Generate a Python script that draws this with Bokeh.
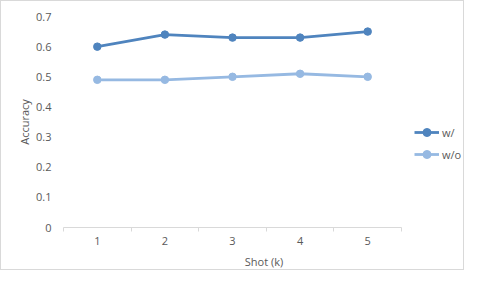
from bokeh.plotting import figure
from bokeh.models import Range1d, FixedTicker, Legend, LegendItem
from bokeh.embed import file_html
from bokeh.resources import INLINE

shots = [1, 2, 3, 4, 5]
tick_labels = {1: "1", 2: "2", 3: "3", 4: "4", 5: "5"}
acc_with = [0.60, 0.64, 0.63, 0.63, 0.65]
acc_without = [0.49, 0.49, 0.50, 0.51, 0.50]
series_names = ["w/", "w/o"]

C_WITH = "#4F84BE"
C_WITHOUT = "#96B9E2"
TXT = "#595959"
FONT = "Open Sans"
FS = "11px"

W, H = 464, 270
LEFT, TOP, BOTTOM, RIGHT = 62, 15, 43, 1
# frame spans the legend area too; the x axis is bounded to the category span
PX_PER_UNIT = 338 / 5
FRAME_W = W - LEFT - RIGHT
x_end = 0.5 + FRAME_W / PX_PER_UNIT

p = figure(width=W, height=H, output_backend="svg", toolbar_location=None,
           x_range=Range1d(0.5, x_end), y_range=Range1d(0, 0.7),
           min_border_left=LEFT, min_border_right=RIGHT, min_border_top=TOP, min_border_bottom=BOTTOM)
p.outline_line_color = None
p.xgrid.grid_line_color = None
p.ygrid.grid_line_color = None

r1 = p.line(shots, acc_with, line_color=C_WITH, line_width=2.8)
m1 = p.scatter(shots, acc_with, size=7.5, fill_color=C_WITH, line_color=C_WITH)
r2 = p.line(shots, acc_without, line_color=C_WITHOUT, line_width=2.8)
m2 = p.scatter(shots, acc_without, size=7.5, fill_color=C_WITHOUT, line_color=C_WITHOUT)

# x axis
xa = p.xaxis[0]
xa.bounds = (0.5, 5.5)
xa.ticker = FixedTicker(ticks=shots, minor_ticks=[s - 0.5 for s in shots] + [shots[-1] + 0.5])
xa.major_label_overrides = tick_labels
xa.axis_line_color = "#d9d9d9"
xa.axis_line_width = 1
xa.major_tick_line_color = None
xa.major_tick_out = 0
xa.major_tick_in = 0
xa.minor_tick_line_color = "#d9d9d9"
xa.minor_tick_out = 4
xa.minor_tick_in = 0
xa.major_label_standoff = 5
xa.axis_label = "Shot (k)"
xa.axis_label_standoff = 6

# y axis
ya = p.yaxis[0]
ya.ticker = FixedTicker(ticks=[0, 0.1, 0.2, 0.3, 0.4, 0.5, 0.6, 0.7])
ya.major_label_overrides = {0: "0"}
ya.axis_line_color = None
ya.major_tick_line_color = None
ya.minor_tick_line_color = None
ya.major_tick_out = 0
ya.major_tick_in = 0
ya.major_label_standoff = 12
ya.axis_label = "Accuracy"
ya.axis_label_standoff = 1

for ax in (xa, ya):
    ax.major_label_text_font = FONT
    ax.major_label_text_font_size = FS
    ax.major_label_text_color = TXT
    ax.axis_label_text_font = FONT
    ax.axis_label_text_font_size = FS
    ax.axis_label_text_color = TXT
    ax.axis_label_text_font_style = "normal"

legend = Legend(items=[LegendItem(label=series_names[0], renderers=[r1, m1]),
                       LegendItem(label=series_names[1], renderers=[r2, m2])],
                location=(351, 63))
legend.border_line_color = None
legend.background_fill_alpha = 0
legend.padding = 0
legend.margin = 0
legend.spacing = 2
legend.glyph_width = 25
legend.glyph_height = 20
legend.label_height = 20
legend.label_standoff = 3
legend.label_text_font = FONT
legend.label_text_font_size = FS
legend.label_text_color = TXT
p.add_layout(legend)

p.styles = {"border": "1px solid #d9d9d9"}

open("out.html", "w").write(file_html(p, INLINE))
